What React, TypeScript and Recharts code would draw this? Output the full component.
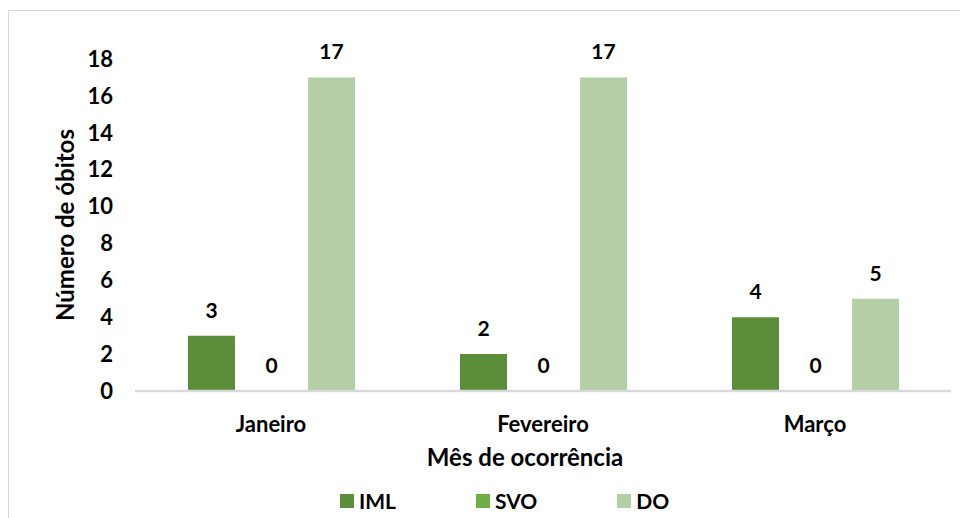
import { BarChart, Bar, XAxis, YAxis, Legend, LabelList, Label } from "recharts";

const meses = ["Janeiro", "Fevereiro", "Março"];
const iml = [3, 2, 4];
const svo = [0, 0, 0];
const dobitos = [17, 17, 5];
const yTicks = [0, 2, 4, 6, 8, 10, 12, 14, 16, 18];

const series = [
    { key: "IML", values: iml, color: "#5B8D3A" },
    { key: "SVO", values: svo, color: "#70AD47" },
    { key: "DO", values: dobitos, color: "#B4CFA6" },
];

const data = meses.map((mes, i) => ({
    mes,
    IML: iml[i],
    SVO: svo[i],
    DO: dobitos[i],
}));

const font = "Lato, 'Open Sans', sans-serif";

function ValueLabel(props: any) {
    const vb = props.viewBox || {};
    const x = vb.x ?? props.x;
    const y = vb.y ?? props.y;
    const w = vb.width ?? props.width;
    return (
        <text x={x + w / 2} y={y - 18} textAnchor="middle" fill="#000" fontSize={21} fontWeight={700} fontFamily={font}>
            {props.value}
        </text>
    );
}

function LegendBox() {
    return (
        <div style={{ display: "flex", alignItems: "center", gap: 80, fontFamily: font, fontWeight: 700, fontSize: 21, color: "#000" }}>
            {series.map((s) => (
                <div key={s.key} style={{ display: "flex", alignItems: "center", gap: 5 }}>
                    <span style={{ width: 14, height: 14, background: s.color, display: "inline-block" }} />
                    <span>{s.key}</span>
                </div>
            ))}
        </div>
    );
}

export default function App() {
    return (
        <div style={{ position: "fixed", left: 8, top: 10, width: 960, height: 520, overflow: "hidden", borderTop: "1px solid #d9d9d9", borderLeft: "1px solid #d9d9d9", background: "#fff" }}>
            <BarChart width={951} height={507} data={data} margin={{ top: 48, right: 9, bottom: 23, left: 0 }}
                barSize={47} barGap={13} barCategoryGap={52}>
                <XAxis dataKey="mes" height={80} tickLine={false} tickSize={0} tickMargin={25}
                    axisLine={{ stroke: "#d9d9d9", strokeWidth: 2.5 }}
                    tick={{ fill: "#000", fontSize: 22, fontWeight: 700, fontFamily: font }}>
                    <Label value="Mês de ocorrência" position="insideBottom" offset={5} dx={-18}
                        style={{ fill: "#000", fontSize: 24, fontWeight: 700, fontFamily: font }} />
                </XAxis>
                <YAxis width={126} domain={[0, 18]} ticks={yTicks} interval={0} axisLine={false} tickLine={false}
                    tickSize={0} tickMargin={22}
                    tick={{ fill: "#000", fontSize: 22, fontWeight: 700, fontFamily: font }}>
                    <Label value="Número de óbitos" angle={-90} position="center" dx={-7}
                        style={{ fill: "#000", fontSize: 24, fontWeight: 700, fontFamily: font, textAnchor: "middle" }} />
                </YAxis>
                <Legend verticalAlign="bottom" content={() => <LegendBox />}
                    wrapperStyle={{ left: 331, top: 477, width: "auto", height: 24 }} />
                {series.map((s) => (
                    <Bar key={s.key} dataKey={s.key} fill={s.color} isAnimationActive={false} minPointSize={0.01}>
                        <LabelList dataKey={s.key} position="top" content={ValueLabel} />
                    </Bar>
                ))}
            </BarChart>
        </div>
    );
}
